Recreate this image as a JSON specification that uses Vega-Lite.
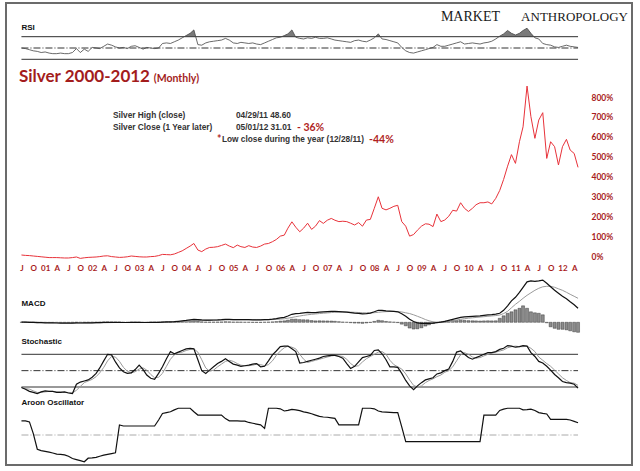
{
  "$schema": "https://vega.github.io/schema/vega-lite/v6.json",
  "width": 640,
  "height": 471,
  "autosize": {"type": "fit", "contains": "padding"},
  "padding": {"left": 6, "top": 3, "right": 8, "bottom": 6},
  "background": "white",
  "config": {"view": {"stroke": "#6b6b6b", "strokeWidth": 2, "fill": "white"}},
  "datasets": {
    "series": [
      {"date": "2000/07/01", "silver": 5, "rsi": 50, "macd": 0.05, "signal": 0.05, "hist": 0, "k": 19, "d": 19, "aroon": 52},
      {"date": "2000/08/01", "silver": 3, "rsi": 49, "macd": 0.03, "signal": 0.05, "hist": -0.02, "k": 16, "d": 17, "aroon": 52},
      {"date": "2000/09/01", "silver": 2, "rsi": 47, "macd": 0, "signal": 0.04, "hist": -0.04, "k": 12, "d": 16, "aroon": 48},
      {"date": "2000/10/01", "silver": 0, "rsi": 45, "macd": -0.02, "signal": 0.03, "hist": -0.05, "k": 10, "d": 13, "aroon": 5},
      {"date": "2000/11/01", "silver": -2, "rsi": 44, "macd": -0.05, "signal": 0.01, "hist": -0.06, "k": 8, "d": 10, "aroon": -52},
      {"date": "2000/12/01", "silver": -4, "rsi": 42, "macd": -0.07, "signal": -0.01, "hist": -0.06, "k": 11, "d": 10, "aroon": -57},
      {"date": "2001/01/01", "silver": -6, "rsi": 43, "macd": -0.1, "signal": -0.03, "hist": -0.07, "k": 13, "d": 11, "aroon": -60},
      {"date": "2001/02/01", "silver": -8, "rsi": 41, "macd": -0.12, "signal": -0.05, "hist": -0.07, "k": 12, "d": 12, "aroon": -63},
      {"date": "2001/03/01", "silver": -8, "rsi": 40, "macd": -0.13, "signal": -0.07, "hist": -0.06, "k": 12, "d": 12, "aroon": -66},
      {"date": "2001/04/01", "silver": -8, "rsi": 40, "macd": -0.14, "signal": -0.09, "hist": -0.05, "k": 10, "d": 11, "aroon": -70},
      {"date": "2001/05/01", "silver": -9, "rsi": 41, "macd": -0.15, "signal": -0.1, "hist": -0.05, "k": 10, "d": 11, "aroon": -71},
      {"date": "2001/06/01", "silver": -10, "rsi": 40, "macd": -0.16, "signal": -0.11, "hist": -0.05, "k": 11, "d": 10, "aroon": -73},
      {"date": "2001/07/01", "silver": -10, "rsi": 40, "macd": -0.16, "signal": -0.12, "hist": -0.04, "k": 9, "d": 10, "aroon": -78},
      {"date": "2001/08/01", "silver": -8, "rsi": 42, "macd": -0.15, "signal": -0.13, "hist": -0.02, "k": 8, "d": 9, "aroon": -86},
      {"date": "2001/09/01", "silver": -5, "rsi": 49, "macd": -0.13, "signal": -0.13, "hist": 0, "k": 25, "d": 14, "aroon": -90},
      {"date": "2001/10/01", "silver": -12, "rsi": 42, "macd": -0.14, "signal": -0.13, "hist": -0.01, "k": 29, "d": 21, "aroon": -94},
      {"date": "2001/11/01", "silver": -9, "rsi": 48, "macd": -0.13, "signal": -0.13, "hist": 0, "k": 31, "d": 28, "aroon": -98},
      {"date": "2001/12/01", "silver": -7, "rsi": 44, "macd": -0.12, "signal": -0.13, "hist": 0.01, "k": 33, "d": 31, "aroon": -85},
      {"date": "2002/01/01", "silver": -6, "rsi": 51, "macd": -0.1, "signal": -0.12, "hist": 0.02, "k": 38, "d": 34, "aroon": -84},
      {"date": "2002/02/01", "silver": -5, "rsi": 50, "macd": -0.08, "signal": -0.11, "hist": 0.03, "k": 45, "d": 39, "aroon": -82},
      {"date": "2002/03/01", "silver": -3, "rsi": 49, "macd": -0.06, "signal": -0.1, "hist": 0.04, "k": 55, "d": 46, "aroon": -78},
      {"date": "2002/04/01", "silver": 0, "rsi": 53, "macd": -0.03, "signal": -0.09, "hist": 0.06, "k": 68, "d": 56, "aroon": -74},
      {"date": "2002/05/01", "silver": 1, "rsi": 57, "macd": 0, "signal": -0.07, "hist": 0.07, "k": 80, "d": 68, "aroon": -71},
      {"date": "2002/06/01", "silver": -3, "rsi": 55, "macd": 0, "signal": -0.05, "hist": 0.05, "k": 79, "d": 76, "aroon": -68},
      {"date": "2002/07/01", "silver": -5, "rsi": 52, "macd": -0.01, "signal": -0.04, "hist": 0.03, "k": 66, "d": 75, "aroon": -65},
      {"date": "2002/08/01", "silver": -7, "rsi": 50, "macd": -0.03, "signal": -0.04, "hist": 0.01, "k": 55, "d": 67, "aroon": 37},
      {"date": "2002/09/01", "silver": -6, "rsi": 51, "macd": -0.04, "signal": -0.04, "hist": 0, "k": 48, "d": 56, "aroon": 33},
      {"date": "2002/10/01", "silver": -4, "rsi": 49, "macd": -0.04, "signal": -0.04, "hist": 0, "k": 45, "d": 49, "aroon": 33},
      {"date": "2002/11/01", "silver": 0, "rsi": 53, "macd": -0.02, "signal": -0.04, "hist": 0.02, "k": 46, "d": 46, "aroon": 33},
      {"date": "2002/12/01", "silver": -2, "rsi": 54, "macd": -0.02, "signal": -0.03, "hist": 0.01, "k": 52, "d": 48, "aroon": 33},
      {"date": "2003/01/01", "silver": -4, "rsi": 51, "macd": -0.03, "signal": -0.03, "hist": 0, "k": 60, "d": 53, "aroon": 33},
      {"date": "2003/02/01", "silver": -5, "rsi": 48, "macd": -0.04, "signal": -0.03, "hist": -0.01, "k": 52, "d": 55, "aroon": 33},
      {"date": "2003/03/01", "silver": -5, "rsi": 51, "macd": -0.04, "signal": -0.03, "hist": -0.01, "k": 42, "d": 51, "aroon": 33},
      {"date": "2003/04/01", "silver": -3, "rsi": 50, "macd": -0.03, "signal": -0.03, "hist": 0, "k": 36, "d": 43, "aroon": 33},
      {"date": "2003/05/01", "silver": -2, "rsi": 49, "macd": -0.02, "signal": -0.03, "hist": 0.01, "k": 34, "d": 37, "aroon": 33},
      {"date": "2003/06/01", "silver": 2, "rsi": 50, "macd": 0, "signal": -0.02, "hist": 0.02, "k": 45, "d": 38, "aroon": 55},
      {"date": "2003/07/01", "silver": 8, "rsi": 58, "macd": 0.05, "signal": 0, "hist": 0.05, "k": 57, "d": 45, "aroon": 79},
      {"date": "2003/08/01", "silver": 7, "rsi": 59, "macd": 0.08, "signal": 0.02, "hist": 0.06, "k": 72, "d": 58, "aroon": 82},
      {"date": "2003/09/01", "silver": 6, "rsi": 58, "macd": 0.1, "signal": 0.03, "hist": 0.07, "k": 85, "d": 71, "aroon": 85},
      {"date": "2003/10/01", "silver": 10, "rsi": 61, "macd": 0.13, "signal": 0.05, "hist": 0.08, "k": 81, "d": 79, "aroon": 92},
      {"date": "2003/11/01", "silver": 18, "rsi": 64, "macd": 0.2, "signal": 0.08, "hist": 0.12, "k": 84, "d": 83, "aroon": 98},
      {"date": "2003/12/01", "silver": 26, "rsi": 68, "macd": 0.28, "signal": 0.12, "hist": 0.16, "k": 87, "d": 84, "aroon": 98},
      {"date": "2004/01/01", "silver": 38, "rsi": 72, "macd": 0.38, "signal": 0.17, "hist": 0.21, "k": 90, "d": 87, "aroon": 98},
      {"date": "2004/02/01", "silver": 50, "rsi": 76, "macd": 0.5, "signal": 0.23, "hist": 0.27, "k": 91, "d": 89, "aroon": 98},
      {"date": "2004/03/01", "silver": 63, "rsi": 82, "macd": 0.6, "signal": 0.3, "hist": 0.3, "k": 90, "d": 90, "aroon": 85},
      {"date": "2004/04/01", "silver": 30, "rsi": 56, "macd": 0.55, "signal": 0.35, "hist": 0.2, "k": 70, "d": 84, "aroon": 73},
      {"date": "2004/05/01", "silver": 22, "rsi": 55, "macd": 0.48, "signal": 0.38, "hist": 0.1, "k": 50, "d": 70, "aroon": 73},
      {"date": "2004/06/01", "silver": 35, "rsi": 59, "macd": 0.45, "signal": 0.4, "hist": 0.05, "k": 45, "d": 55, "aroon": 73},
      {"date": "2004/07/01", "silver": 43, "rsi": 61, "macd": 0.45, "signal": 0.41, "hist": 0.04, "k": 51, "d": 49, "aroon": 73},
      {"date": "2004/08/01", "silver": 44, "rsi": 62, "macd": 0.46, "signal": 0.42, "hist": 0.04, "k": 57, "d": 51, "aroon": 73},
      {"date": "2004/09/01", "silver": 47, "rsi": 63, "macd": 0.48, "signal": 0.43, "hist": 0.05, "k": 63, "d": 57, "aroon": 73},
      {"date": "2004/10/01", "silver": 53, "rsi": 64, "macd": 0.52, "signal": 0.45, "hist": 0.07, "k": 67, "d": 62, "aroon": 73},
      {"date": "2004/11/01", "silver": 60, "rsi": 67, "macd": 0.58, "signal": 0.47, "hist": 0.11, "k": 72, "d": 67, "aroon": 60},
      {"date": "2004/12/01", "silver": 50, "rsi": 64, "macd": 0.58, "signal": 0.49, "hist": 0.09, "k": 67, "d": 69, "aroon": 52},
      {"date": "2005/01/01", "silver": 42, "rsi": 59, "macd": 0.55, "signal": 0.5, "hist": 0.05, "k": 62, "d": 67, "aroon": 52},
      {"date": "2005/02/01", "silver": 55, "rsi": 58, "macd": 0.56, "signal": 0.51, "hist": 0.05, "k": 60, "d": 63, "aroon": 52},
      {"date": "2005/03/01", "silver": 47, "rsi": 60, "macd": 0.55, "signal": 0.52, "hist": 0.03, "k": 58, "d": 60, "aroon": 51},
      {"date": "2005/04/01", "silver": 43, "rsi": 59, "macd": 0.52, "signal": 0.52, "hist": 0, "k": 59, "d": 59, "aroon": 51},
      {"date": "2005/05/01", "silver": 52, "rsi": 58, "macd": 0.52, "signal": 0.52, "hist": 0, "k": 60, "d": 59, "aroon": 46},
      {"date": "2005/06/01", "silver": 45, "rsi": 59, "macd": 0.5, "signal": 0.52, "hist": -0.02, "k": 62, "d": 60, "aroon": 43},
      {"date": "2005/07/01", "silver": 43, "rsi": 57, "macd": 0.48, "signal": 0.51, "hist": -0.03, "k": 63, "d": 62, "aroon": 40},
      {"date": "2005/08/01", "silver": 50, "rsi": 56, "macd": 0.48, "signal": 0.51, "hist": -0.03, "k": 57, "d": 61, "aroon": 37},
      {"date": "2005/09/01", "silver": 60, "rsi": 59, "macd": 0.52, "signal": 0.51, "hist": 0.01, "k": 58, "d": 59, "aroon": 24},
      {"date": "2005/10/01", "silver": 63, "rsi": 62, "macd": 0.55, "signal": 0.52, "hist": 0.03, "k": 68, "d": 61, "aroon": 98},
      {"date": "2005/11/01", "silver": 72, "rsi": 65, "macd": 0.62, "signal": 0.54, "hist": 0.08, "k": 79, "d": 68, "aroon": 98},
      {"date": "2005/12/01", "silver": 83, "rsi": 68, "macd": 0.72, "signal": 0.58, "hist": 0.14, "k": 86, "d": 78, "aroon": 98},
      {"date": "2006/01/01", "silver": 100, "rsi": 69, "macd": 0.88, "signal": 0.64, "hist": 0.24, "k": 94, "d": 86, "aroon": 96},
      {"date": "2006/02/01", "silver": 105, "rsi": 72, "macd": 1.0, "signal": 0.71, "hist": 0.29, "k": 95, "d": 92, "aroon": 88},
      {"date": "2006/03/01", "silver": 140, "rsi": 75, "macd": 1.25, "signal": 0.82, "hist": 0.43, "k": 95, "d": 95, "aroon": 90},
      {"date": "2006/04/01", "silver": 172, "rsi": 82, "macd": 1.6, "signal": 0.97, "hist": 0.63, "k": 90, "d": 93, "aroon": 94},
      {"date": "2006/05/01", "silver": 145, "rsi": 69, "macd": 1.75, "signal": 1.12, "hist": 0.63, "k": 85, "d": 90, "aroon": 92},
      {"date": "2006/06/01", "silver": 122, "rsi": 67, "macd": 1.8, "signal": 1.26, "hist": 0.54, "k": 64, "d": 80, "aroon": 89},
      {"date": "2006/07/01", "silver": 140, "rsi": 66, "macd": 1.9, "signal": 1.39, "hist": 0.51, "k": 65, "d": 71, "aroon": 85},
      {"date": "2006/08/01", "silver": 165, "rsi": 68, "macd": 2.0, "signal": 1.51, "hist": 0.49, "k": 67, "d": 65, "aroon": 82},
      {"date": "2006/09/01", "silver": 134, "rsi": 67, "macd": 1.95, "signal": 1.6, "hist": 0.35, "k": 69, "d": 67, "aroon": 78},
      {"date": "2006/10/01", "silver": 150, "rsi": 69, "macd": 1.95, "signal": 1.67, "hist": 0.28, "k": 71, "d": 69, "aroon": 73},
      {"date": "2006/11/01", "silver": 178, "rsi": 67, "macd": 2.05, "signal": 1.75, "hist": 0.3, "k": 73, "d": 71, "aroon": 68},
      {"date": "2006/12/01", "silver": 164, "rsi": 67, "macd": 2.1, "signal": 1.82, "hist": 0.28, "k": 76, "d": 73, "aroon": 66},
      {"date": "2007/01/01", "silver": 180, "rsi": 68, "macd": 2.15, "signal": 1.88, "hist": 0.27, "k": 77, "d": 75, "aroon": 65},
      {"date": "2007/02/01", "silver": 189, "rsi": 66, "macd": 2.2, "signal": 1.95, "hist": 0.25, "k": 78, "d": 77, "aroon": 63},
      {"date": "2007/03/01", "silver": 180, "rsi": 64, "macd": 2.2, "signal": 2.0, "hist": 0.2, "k": 78, "d": 78, "aroon": 61},
      {"date": "2007/04/01", "silver": 173, "rsi": 63, "macd": 2.15, "signal": 2.03, "hist": 0.12, "k": 76, "d": 77, "aroon": 37},
      {"date": "2007/05/01", "silver": 175, "rsi": 62, "macd": 2.1, "signal": 2.05, "hist": 0.05, "k": 73, "d": 76, "aroon": 37},
      {"date": "2007/06/01", "silver": 173, "rsi": 61, "macd": 2.05, "signal": 2.05, "hist": 0, "k": 63, "d": 71, "aroon": 37},
      {"date": "2007/07/01", "silver": 165, "rsi": 60, "macd": 1.95, "signal": 2.03, "hist": -0.08, "k": 54, "d": 63, "aroon": 37},
      {"date": "2007/08/01", "silver": 156, "rsi": 63, "macd": 1.85, "signal": 2.0, "hist": -0.15, "k": 58, "d": 58, "aroon": 37},
      {"date": "2007/09/01", "silver": 168, "rsi": 64, "macd": 1.8, "signal": 1.96, "hist": -0.16, "k": 66, "d": 59, "aroon": 37},
      {"date": "2007/10/01", "silver": 150, "rsi": 62, "macd": 1.7, "signal": 1.91, "hist": -0.21, "k": 74, "d": 66, "aroon": 98},
      {"date": "2007/11/01", "silver": 181, "rsi": 61, "macd": 1.75, "signal": 1.88, "hist": -0.13, "k": 76, "d": 72, "aroon": 98},
      {"date": "2007/12/01", "silver": 184, "rsi": 64, "macd": 1.85, "signal": 1.88, "hist": -0.03, "k": 78, "d": 76, "aroon": 98},
      {"date": "2008/01/01", "silver": 240, "rsi": 68, "macd": 2.1, "signal": 1.92, "hist": 0.18, "k": 87, "d": 80, "aroon": 96},
      {"date": "2008/02/01", "silver": 298, "rsi": 75, "macd": 2.4, "signal": 2.0, "hist": 0.4, "k": 88, "d": 84, "aroon": 88},
      {"date": "2008/03/01", "silver": 240, "rsi": 66, "macd": 2.4, "signal": 2.08, "hist": 0.32, "k": 81, "d": 85, "aroon": 85},
      {"date": "2008/04/01", "silver": 232, "rsi": 65, "macd": 2.3, "signal": 2.13, "hist": 0.17, "k": 70, "d": 80, "aroon": 84},
      {"date": "2008/05/01", "silver": 240, "rsi": 63, "macd": 2.25, "signal": 2.16, "hist": 0.09, "k": 57, "d": 69, "aroon": 83},
      {"date": "2008/06/01", "silver": 250, "rsi": 61, "macd": 2.2, "signal": 2.17, "hist": 0.03, "k": 57, "d": 61, "aroon": 82},
      {"date": "2008/07/01", "silver": 255, "rsi": 59, "macd": 2.1, "signal": 2.16, "hist": -0.06, "k": 56, "d": 57, "aroon": 82},
      {"date": "2008/08/01", "silver": 173, "rsi": 51, "macd": 1.7, "signal": 2.07, "hist": -0.37, "k": 45, "d": 53, "aroon": 30},
      {"date": "2008/09/01", "silver": 150, "rsi": 45, "macd": 1.2, "signal": 1.9, "hist": -0.7, "k": 32, "d": 44, "aroon": -24},
      {"date": "2008/10/01", "silver": 100, "rsi": 42, "macd": 0.6, "signal": 1.75, "hist": -1.15, "k": 22, "d": 33, "aroon": -24},
      {"date": "2008/11/01", "silver": 108, "rsi": 41, "macd": 0.15, "signal": 1.5, "hist": -1.35, "k": 15, "d": 23, "aroon": -24},
      {"date": "2008/12/01", "silver": 130, "rsi": 43, "macd": -0.1, "signal": 1.2, "hist": -1.3, "k": 22, "d": 20, "aroon": -24},
      {"date": "2009/01/01", "silver": 150, "rsi": 45, "macd": -0.2, "signal": 0.9, "hist": -1.1, "k": 28, "d": 22, "aroon": -24},
      {"date": "2009/02/01", "silver": 162, "rsi": 47, "macd": -0.2, "signal": 0.55, "hist": -0.75, "k": 33, "d": 28, "aroon": -24},
      {"date": "2009/03/01", "silver": 160, "rsi": 49, "macd": -0.2, "signal": 0.3, "hist": -0.5, "k": 35, "d": 32, "aroon": -24},
      {"date": "2009/04/01", "silver": 148, "rsi": 51, "macd": -0.15, "signal": 0.1, "hist": -0.25, "k": 37, "d": 35, "aroon": -24},
      {"date": "2009/05/01", "silver": 211, "rsi": 56, "macd": -0.05, "signal": 0.0, "hist": -0.05, "k": 44, "d": 39, "aroon": -24},
      {"date": "2009/06/01", "silver": 173, "rsi": 53, "macd": 0.05, "signal": -0.05, "hist": 0.1, "k": 46, "d": 42, "aroon": -24},
      {"date": "2009/07/01", "silver": 181, "rsi": 53, "macd": 0.2, "signal": 0.0, "hist": 0.2, "k": 50, "d": 47, "aroon": -24},
      {"date": "2009/08/01", "silver": 200, "rsi": 55, "macd": 0.4, "signal": 0.1, "hist": 0.3, "k": 53, "d": 50, "aroon": -24},
      {"date": "2009/09/01", "silver": 230, "rsi": 57, "macd": 0.6, "signal": 0.25, "hist": 0.35, "k": 67, "d": 57, "aroon": -24},
      {"date": "2009/10/01", "silver": 226, "rsi": 59, "macd": 0.8, "signal": 0.45, "hist": 0.35, "k": 84, "d": 68, "aroon": -24},
      {"date": "2009/11/01", "silver": 268, "rsi": 61, "macd": 1.0, "signal": 0.6, "hist": 0.4, "k": 86, "d": 79, "aroon": -24},
      {"date": "2009/12/01", "silver": 240, "rsi": 57, "macd": 1.1, "signal": 0.72, "hist": 0.38, "k": 80, "d": 83, "aroon": -24},
      {"date": "2010/01/01", "silver": 224, "rsi": 58, "macd": 1.15, "signal": 0.82, "hist": 0.33, "k": 74, "d": 80, "aroon": -24},
      {"date": "2010/02/01", "silver": 240, "rsi": 59, "macd": 1.2, "signal": 0.9, "hist": 0.3, "k": 71, "d": 75, "aroon": -24},
      {"date": "2010/03/01", "silver": 258, "rsi": 58, "macd": 1.25, "signal": 0.97, "hist": 0.28, "k": 74, "d": 73, "aroon": -24},
      {"date": "2010/04/01", "silver": 268, "rsi": 57, "macd": 1.3, "signal": 1.05, "hist": 0.25, "k": 77, "d": 74, "aroon": -24},
      {"date": "2010/05/01", "silver": 268, "rsi": 59, "macd": 1.4, "signal": 1.12, "hist": 0.28, "k": 80, "d": 77, "aroon": 73},
      {"date": "2010/06/01", "silver": 272, "rsi": 60, "macd": 1.5, "signal": 1.2, "hist": 0.3, "k": 83, "d": 80, "aroon": 73},
      {"date": "2010/07/01", "silver": 262, "rsi": 62, "macd": 1.55, "signal": 1.27, "hist": 0.28, "k": 83, "d": 82, "aroon": 73},
      {"date": "2010/08/01", "silver": 290, "rsi": 66, "macd": 1.65, "signal": 1.35, "hist": 0.3, "k": 85, "d": 84, "aroon": 73},
      {"date": "2010/09/01", "silver": 330, "rsi": 71, "macd": 1.8, "signal": 1.45, "hist": 0.8, "k": 89, "d": 86, "aroon": 90},
      {"date": "2010/10/01", "silver": 385, "rsi": 75, "macd": 2.4, "signal": 1.75, "hist": 1.3, "k": 91, "d": 88, "aroon": 95},
      {"date": "2010/11/01", "silver": 452, "rsi": 81, "macd": 3.3, "signal": 2.2, "hist": 1.8, "k": 96, "d": 92, "aroon": 98},
      {"date": "2010/12/01", "silver": 510, "rsi": 76, "macd": 4.3, "signal": 2.9, "hist": 2.1, "k": 95, "d": 94, "aroon": 98},
      {"date": "2011/01/01", "silver": 466, "rsi": 73, "macd": 5.0, "signal": 3.6, "hist": 2.5, "k": 93, "d": 95, "aroon": 98},
      {"date": "2011/02/01", "silver": 575, "rsi": 76, "macd": 6.0, "signal": 4.2, "hist": 2.8, "k": 94, "d": 94, "aroon": 98},
      {"date": "2011/03/01", "silver": 650, "rsi": 81, "macd": 7.0, "signal": 4.8, "hist": 3.3, "k": 96, "d": 94, "aroon": 92},
      {"date": "2011/04/01", "silver": 855, "rsi": 85, "macd": 8.1, "signal": 5.4, "hist": 2.8, "k": 95, "d": 95, "aroon": 93},
      {"date": "2011/05/01", "silver": 701, "rsi": 76, "macd": 8.3, "signal": 5.9, "hist": 2.1, "k": 83, "d": 91, "aroon": 95},
      {"date": "2011/06/01", "silver": 592, "rsi": 68, "macd": 8.2, "signal": 6.4, "hist": 1.9, "k": 76, "d": 85, "aroon": 90},
      {"date": "2011/07/01", "silver": 684, "rsi": 66, "macd": 8.3, "signal": 6.8, "hist": 1.8, "k": 67, "d": 75, "aroon": 82},
      {"date": "2011/08/01", "silver": 721, "rsi": 58, "macd": 8.45, "signal": 7.1, "hist": 1.5, "k": 64, "d": 69, "aroon": 79},
      {"date": "2011/09/01", "silver": 491, "rsi": 56, "macd": 7.8, "signal": 7.2, "hist": -0.1, "k": 58, "d": 63, "aroon": 77},
      {"date": "2011/10/01", "silver": 575, "rsi": 55, "macd": 7.1, "signal": 7.2, "hist": -0.9, "k": 51, "d": 58, "aroon": 57},
      {"date": "2011/11/01", "silver": 550, "rsi": 52, "macd": 6.4, "signal": 7.0, "hist": -1.2, "k": 43, "d": 51, "aroon": 57},
      {"date": "2011/12/01", "silver": 458, "rsi": 51, "macd": 5.8, "signal": 6.7, "hist": -1.4, "k": 37, "d": 44, "aroon": 57},
      {"date": "2012/01/01", "silver": 550, "rsi": 53, "macd": 5.2, "signal": 6.4, "hist": -1.4, "k": 30, "d": 37, "aroon": 57},
      {"date": "2012/02/01", "silver": 587, "rsi": 55, "macd": 4.7, "signal": 6.0, "hist": -1.5, "k": 28, "d": 32, "aroon": 57},
      {"date": "2012/03/01", "silver": 533, "rsi": 53, "macd": 4.1, "signal": 5.6, "hist": -1.7, "k": 27, "d": 28, "aroon": 55},
      {"date": "2012/04/01", "silver": 516, "rsi": 52, "macd": 3.5, "signal": 5.2, "hist": -1.9, "k": 25, "d": 27, "aroon": 50},
      {"date": "2012/05/01", "silver": 446, "rsi": 51, "macd": 2.8, "signal": 4.8, "hist": -2.0, "k": 18, "d": 23, "aroon": 45}
    ],
    "levels": [
      {"panel": "rsi", "style": "solid", "start": "2000/07/01", "end": "2012/05/01", "v": 70},
      {"panel": "rsi", "style": "solid", "start": "2000/07/01", "end": "2012/05/01", "v": 30},
      {"panel": "rsi", "style": "dash", "start": "2000/07/01", "end": "2012/05/01", "v": 50},
      {"panel": "rsimask", "style": "mask", "start": "2000/06/20", "end": "2012/05/10", "v": 70, "v2": 33},
      {"panel": "stoch", "style": "solid", "start": "2000/07/01", "end": "2012/05/01", "v": 80},
      {"panel": "stoch", "style": "solid", "start": "2000/07/01", "end": "2012/05/01", "v": 20},
      {"panel": "stoch", "style": "dash", "start": "2000/07/01", "end": "2012/05/01", "v": 50},
      {"panel": "aroon", "style": "dash", "start": "2000/07/01", "end": "2012/05/01", "v": 0}
    ],
    "notes": [
      {"id": "rsi", "date": "2000/07/01", "v": 85.4, "t": "RSI"},
      {"id": "logo1", "date": "2010/09/03", "v": 97, "t": "MARKET"},
      {"id": "logo2", "date": "2013/05/24", "v": 97, "t": "ANTHROPOLOGY"},
      {"id": "title", "date": "2000/06/12", "v": 875, "t": "Silver 2000-2012"},
      {"id": "sub", "date": "2003/04/25", "v": 875, "t": "(Monthly)"},
      {"id": "dark", "date": "2002/06/11", "v": 702, "t": "Silver High  (close)"},
      {"id": "dark", "date": "2005/01/22", "v": 702, "t": "04/29/11 48.60"},
      {"id": "dark", "date": "2002/06/11", "v": 644, "t": "Silver Close (1 Year later)"},
      {"id": "dark", "date": "2005/01/22", "v": 644, "t": "05/01/12 31.01"},
      {"id": "dark", "date": "2004/10/05", "v": 584, "t": "Low close during the year (12/28/11)"},
      {"id": "red", "date": "2006/05/10", "v": 646, "t": "- 36%"},
      {"id": "red", "date": "2007/11/21", "v": 586, "t": "-44%"},
      {"id": "star", "date": "2004/08/27", "v": 583, "t": "*"},
      {"id": "macd", "date": "2000/07/01", "v": 3.66, "t": "MACD"},
      {"id": "stoch", "date": "2000/07/01", "v": 102.6, "t": "Stochastic"},
      {"id": "aroon", "date": "2000/07/01", "v": 118.3, "t": "Aroon Oscillator"}
    ]
  },
  "data": {"name": "series"},
  "encoding": {
    "x": {
      "field": "date",
      "type": "temporal",
      "scale": {"domain": [{"year": 2000, "month": 3, "date": 3}, {"year": 2013, "month": 6, "date": 24}], "padding": 0},
      "axis": {
        "orient": "bottom",
        "offset": -201,
        "tickCount": {"interval": "month", "step": 3},
        "labelExpr": "datum.value < datetime(2000,5,15) || datum.value > datetime(2012,3,15) ? '' : month(datum.value) == 0 ? timeFormat(datum.value, '%y') : month(datum.value) == 3 ? 'A' : month(datum.value) == 6 ? 'J' : 'O'",
        "domain": false,
        "ticks": false,
        "grid": false,
        "labelPadding": 0,
        "labelFont": "Lato",
        "labelFontWeight": "bold",
        "labelFontSize": 8,
        "labelColor": "#a81c1c",
        "labelOverlap": false,
        "labelFlush": false,
        "title": null
      }
    }
  },
  "resolve": {"scale": {"y": "independent"}},
  "layer": [
    {
      "layer": [
        {
          "mark": {"type": "area", "color": "#7a7a7a", "opacity": 1},
          "encoding": {
            "y": {"field": "rsi", "type": "quantitative", "scale": {"domain": [30, 70], "range": [56.3, 33.7], "nice": false, "zero": false}, "axis": null},
            "y2": {"datum": 70}
          }
        },
        {
          "data": {"name": "levels"},
          "transform": [{"filter": "datum.panel == 'rsimask'"}],
          "mark": {"type": "rect", "color": "white"},
          "encoding": {
            "x": {"field": "start", "type": "temporal"},
            "x2": {"field": "end"},
            "y": {"field": "v", "type": "quantitative", "scale": {"domain": [30, 70], "range": [56.3, 33.7], "nice": false, "zero": false}, "axis": null},
            "y2": {"field": "v2"}
          }
        },
        {
          "data": {"name": "levels"},
          "transform": [{"filter": "datum.panel == 'rsi' && datum.style == 'solid'"}],
          "mark": {"type": "rule", "color": "#333333", "strokeWidth": 1},
          "encoding": {
            "x": {"field": "start", "type": "temporal"},
            "x2": {"field": "end"},
            "y": {"field": "v", "type": "quantitative", "scale": {"domain": [30, 70], "range": [56.3, 33.7], "nice": false, "zero": false}, "axis": null}
          }
        },
        {
          "data": {"name": "levels"},
          "transform": [{"filter": "datum.panel == 'rsi' && datum.style == 'dash'"}],
          "mark": {"type": "rule", "color": "#333333", "strokeWidth": 1, "strokeDash": [7, 2, 1, 2]},
          "encoding": {
            "x": {"field": "start", "type": "temporal"},
            "x2": {"field": "end"},
            "y": {"field": "v", "type": "quantitative", "scale": {"domain": [30, 70], "range": [56.3, 33.7], "nice": false, "zero": false}, "axis": null}
          }
        },
        {
          "mark": {"type": "line", "color": "#444444", "strokeWidth": 0.8},
          "encoding": {
            "y": {"field": "rsi", "type": "quantitative", "scale": {"domain": [30, 70], "range": [56.3, 33.7], "nice": false, "zero": false}, "axis": null}
          }
        },
        {
          "data": {"name": "notes"},
          "transform": [{"filter": "datum.id == 'rsi'"}],
          "mark": {"type": "text", "align": "left", "baseline": "middle", "font": "Liberation Sans", "fontWeight": "bold", "fontSize": 8, "color": "#111111"},
          "encoding": {
            "text": {"field": "t"},
            "y": {"field": "v", "type": "quantitative", "scale": {"domain": [30, 70], "range": [56.3, 33.7], "nice": false, "zero": false}, "axis": null}
          }
        },
        {
          "data": {"name": "notes"},
          "transform": [{"filter": "datum.id == 'logo1'"}],
          "mark": {"type": "text", "align": "right", "baseline": "alphabetic", "font": "Liberation Serif", "fontSize": 14, "color": "#1a1a1a"},
          "encoding": {
            "text": {"field": "t"},
            "y": {"field": "v", "type": "quantitative", "scale": {"domain": [30, 70], "range": [56.3, 33.7], "nice": false, "zero": false}, "axis": null}
          }
        },
        {
          "data": {"name": "notes"},
          "transform": [{"filter": "datum.id == 'logo2'"}],
          "mark": {"type": "text", "align": "right", "baseline": "alphabetic", "font": "Liberation Serif", "fontSize": 13, "color": "#1a1a1a"},
          "encoding": {
            "text": {"field": "t"},
            "y": {"field": "v", "type": "quantitative", "scale": {"domain": [30, 70], "range": [56.3, 33.7], "nice": false, "zero": false}, "axis": null}
          }
        }
      ]
    },
    {
      "layer": [
        {
          "mark": {"type": "line", "color": "#e8323a", "strokeWidth": 1},
          "encoding": {
            "y": {
              "field": "silver",
              "type": "quantitative",
              "scale": {"domain": [0, 800], "range": [253, 94], "nice": false, "zero": false},
              "axis": {
                "orient": "right",
                "offset": -43,
                "values": [0, 100, 200, 300, 400, 500, 600, 700, 800],
                "labelExpr": "datum.value + '%'",
                "domain": false,
                "ticks": false,
                "grid": false,
                "labelPadding": 2,
                "labelFont": "Lato",
                "labelFontWeight": "bold",
                "labelFontSize": 8.5,
                "labelColor": "#a81c1c",
                "title": null
              }
            }
          }
        },
        {
          "data": {"name": "notes"},
          "transform": [{"filter": "datum.id == 'title'"}],
          "mark": {"type": "text", "align": "left", "baseline": "alphabetic", "font": "Lato", "fontWeight": "bold", "fontSize": 17, "color": "#a31c1c"},
          "encoding": {
            "text": {"field": "t"},
            "y": {"field": "v", "type": "quantitative", "scale": {"domain": [0, 800], "range": [253, 94], "nice": false, "zero": false}}
          }
        },
        {
          "data": {"name": "notes"},
          "transform": [{"filter": "datum.id == 'sub'"}],
          "mark": {"type": "text", "align": "left", "baseline": "alphabetic", "font": "Lato", "fontWeight": "bold", "fontSize": 10.5, "color": "#a31c1c"},
          "encoding": {
            "text": {"field": "t"},
            "y": {"field": "v", "type": "quantitative", "scale": {"domain": [0, 800], "range": [253, 94], "nice": false, "zero": false}}
          }
        },
        {
          "data": {"name": "notes"},
          "transform": [{"filter": "datum.id == 'dark'"}],
          "mark": {"type": "text", "align": "left", "baseline": "middle", "font": "Liberation Sans", "fontWeight": "bold", "fontSize": 8.3, "color": "#333333"},
          "encoding": {
            "text": {"field": "t"},
            "y": {"field": "v", "type": "quantitative", "scale": {"domain": [0, 800], "range": [253, 94], "nice": false, "zero": false}}
          }
        },
        {
          "data": {"name": "notes"},
          "transform": [{"filter": "datum.id == 'red' || datum.id == 'star'"}],
          "mark": {"type": "text", "align": "left", "baseline": "middle", "font": "Lato", "fontWeight": "bold", "fontSize": 10.5, "color": "#b01e1e"},
          "encoding": {
            "text": {"field": "t"},
            "y": {"field": "v", "type": "quantitative", "scale": {"domain": [0, 800], "range": [253, 94], "nice": false, "zero": false}}
          }
        }
      ]
    },
    {
      "layer": [
        {
          "mark": {"type": "bar", "width": 3, "color": "#8c8c8c", "stroke": "#222222", "strokeWidth": 0.4},
          "encoding": {
            "y": {"field": "hist", "type": "quantitative", "scale": {"domain": [0, 8], "range": [319.3, 279.3], "nice": false, "zero": false}, "axis": null},
            "y2": {"datum": 0}
          }
        },
        {
          "mark": {"type": "line", "color": "#9a9a9a", "strokeWidth": 1},
          "encoding": {
            "y": {"field": "signal", "type": "quantitative", "scale": {"domain": [0, 8], "range": [319.3, 279.3], "nice": false, "zero": false}, "axis": null}
          }
        },
        {
          "mark": {"type": "line", "color": "#111111", "strokeWidth": 1.2},
          "encoding": {
            "y": {"field": "macd", "type": "quantitative", "scale": {"domain": [0, 8], "range": [319.3, 279.3], "nice": false, "zero": false}, "axis": null}
          }
        },
        {
          "data": {"name": "notes"},
          "transform": [{"filter": "datum.id == 'macd'"}],
          "mark": {"type": "text", "align": "left", "baseline": "middle", "font": "Liberation Sans", "fontWeight": "bold", "fontSize": 8, "color": "#111111"},
          "encoding": {
            "text": {"field": "t"},
            "y": {"field": "v", "type": "quantitative", "scale": {"domain": [0, 8], "range": [319.3, 279.3], "nice": false, "zero": false}, "axis": null}
          }
        }
      ]
    },
    {
      "layer": [
        {
          "data": {"name": "levels"},
          "transform": [{"filter": "datum.panel == 'stoch' && datum.style == 'solid'"}],
          "mark": {"type": "rule", "color": "#333333", "strokeWidth": 1},
          "encoding": {
            "x": {"field": "start", "type": "temporal"},
            "x2": {"field": "end"},
            "y": {"field": "v", "type": "quantitative", "scale": {"domain": [20, 80], "range": [384, 351.3], "nice": false, "zero": false}, "axis": null}
          }
        },
        {
          "data": {"name": "levels"},
          "transform": [{"filter": "datum.panel == 'stoch' && datum.style == 'dash'"}],
          "mark": {"type": "rule", "color": "#333333", "strokeWidth": 1, "strokeDash": [7, 2, 1, 2]},
          "encoding": {
            "x": {"field": "start", "type": "temporal"},
            "x2": {"field": "end"},
            "y": {"field": "v", "type": "quantitative", "scale": {"domain": [20, 80], "range": [384, 351.3], "nice": false, "zero": false}, "axis": null}
          }
        },
        {
          "mark": {"type": "line", "color": "#9a9a9a", "strokeWidth": 1},
          "encoding": {
            "y": {"field": "d", "type": "quantitative", "scale": {"domain": [20, 80], "range": [384, 351.3], "nice": false, "zero": false}, "axis": null}
          }
        },
        {
          "mark": {"type": "line", "color": "#111111", "strokeWidth": 1.2},
          "encoding": {
            "y": {"field": "k", "type": "quantitative", "scale": {"domain": [20, 80], "range": [384, 351.3], "nice": false, "zero": false}, "axis": null}
          }
        },
        {
          "data": {"name": "notes"},
          "transform": [{"filter": "datum.id == 'stoch'"}],
          "mark": {"type": "text", "align": "left", "baseline": "middle", "font": "Liberation Sans", "fontWeight": "bold", "fontSize": 8, "color": "#111111"},
          "encoding": {
            "text": {"field": "t"},
            "y": {"field": "v", "type": "quantitative", "scale": {"domain": [20, 80], "range": [384, 351.3], "nice": false, "zero": false}, "axis": null}
          }
        }
      ]
    },
    {
      "layer": [
        {
          "data": {"name": "levels"},
          "transform": [{"filter": "datum.panel == 'aroon'"}],
          "mark": {"type": "rule", "color": "#aaaaaa", "strokeWidth": 1, "strokeDash": [7, 2, 1, 2]},
          "encoding": {
            "x": {"field": "start", "type": "temporal"},
            "x2": {"field": "end"},
            "y": {"field": "v", "type": "quantitative", "scale": {"domain": [-100, 100], "range": [459.3, 404.7], "nice": false, "zero": false}, "axis": null}
          }
        },
        {
          "mark": {"type": "line", "color": "#111111", "strokeWidth": 1.2},
          "encoding": {
            "y": {"field": "aroon", "type": "quantitative", "scale": {"domain": [-100, 100], "range": [459.3, 404.7], "nice": false, "zero": false}, "axis": null}
          }
        },
        {
          "data": {"name": "notes"},
          "transform": [{"filter": "datum.id == 'aroon'"}],
          "mark": {"type": "text", "align": "left", "baseline": "middle", "font": "Liberation Sans", "fontWeight": "bold", "fontSize": 8, "color": "#111111"},
          "encoding": {
            "text": {"field": "t"},
            "y": {"field": "v", "type": "quantitative", "scale": {"domain": [-100, 100], "range": [459.3, 404.7], "nice": false, "zero": false}, "axis": null}
          }
        }
      ]
    }
  ]
}
